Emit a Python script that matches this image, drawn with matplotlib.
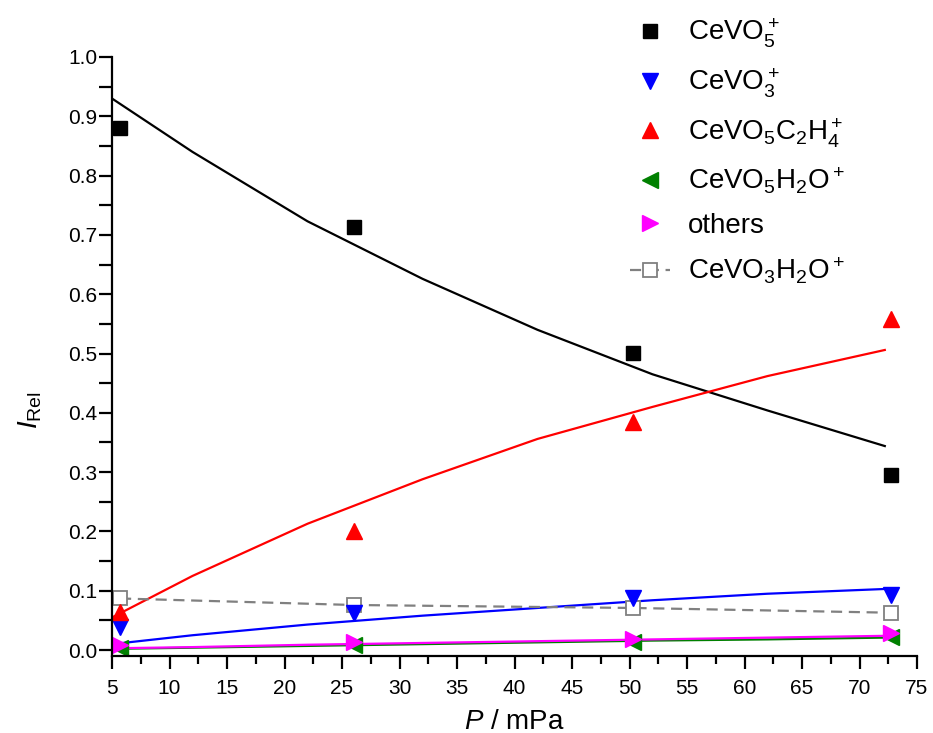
import matplotlib.pyplot as plt
from matplotlib.ticker import MultipleLocator
from matplotlib.lines import Line2D

plt.rcParams['font.family'] = ['Liberation Sans', 'DejaVu Sans']
plt.rcParams['mathtext.fontset'] = 'custom'
plt.rcParams['mathtext.rm'] = 'Liberation Sans'
plt.rcParams['mathtext.it'] = 'Liberation Sans:italic'

# measured points
presion = [5.7, 26.0, 50.3, 72.7]
cevo5 = [0.880, 0.713, 0.501, 0.296]
cevo3 = [0.039, 0.062, 0.087, 0.093]
cevo5c2h4 = [0.064, 0.200, 0.384, 0.558]
cevo5h2o = [0.003, 0.009, 0.014, 0.022]
otros = [0.009, 0.013, 0.019, 0.028]
cevo3h2o = [0.087, 0.076, 0.071, 0.063]

# fitted curves
x_fit = [5.0, 12, 22, 32, 42, 52, 62, 72.2]
fit_cevo5 = [0.930, 0.840, 0.723, 0.626, 0.540, 0.465, 0.404, 0.344]
fit_c2h4 = [0.055, 0.125, 0.213, 0.288, 0.356, 0.410, 0.462, 0.506]
fit_cevo3 = [0.010, 0.025, 0.043, 0.058, 0.071, 0.084, 0.095, 0.103]
fit_otros = [0.003, 0.005, 0.009, 0.012, 0.015, 0.018, 0.021, 0.024]
fit_h2o = [0.002, 0.004, 0.007, 0.010, 0.013, 0.016, 0.018, 0.021]

fig = plt.figure(figsize=(9.33, 7.33), dpi=100)
ax = fig.add_axes([112/933, 1-656/733, 805/933, 599/733])

ax.plot(x_fit, fit_cevo5, color='black', lw=1.6)
ax.plot(x_fit, fit_c2h4, color='red', lw=1.6)
ax.plot(x_fit, fit_cevo3, color='blue', lw=1.6)
ax.plot(x_fit, fit_h2o, color='green', lw=1.6)
ax.plot(x_fit, fit_otros, color='magenta', lw=1.6)

ax.plot(presion, cevo3h2o, color='gray', ls=(0, (5, 3)), lw=1.6, marker='s',
        ms=9.5, mfc='white', mec='gray', mew=1.3)
ax.plot(presion, cevo5, 's', color='black', ms=9.5, clip_on=False)
ax.plot(presion, cevo3, 'v', color='blue', ms=11.5, clip_on=False)
ax.plot(presion, cevo5c2h4, '^', color='red', ms=11.5, clip_on=False)
ax.plot(presion, cevo5h2o, '<', color='green', ms=11.5, clip_on=False)
ax.plot(presion, otros, '>', color='magenta', ms=11.5, clip_on=False)

ax.set_xlim(5, 75)
ax.set_ylim(-0.01, 1.0)
ax.xaxis.set_major_locator(MultipleLocator(5))
ax.xaxis.set_minor_locator(MultipleLocator(2.5))
ax.yaxis.set_major_locator(MultipleLocator(0.1))
ax.yaxis.set_minor_locator(MultipleLocator(0.05))
ax.yaxis.set_major_formatter(plt.FuncFormatter(lambda v, p: '%.1f' % v))
ax.spines['top'].set_visible(False)
ax.spines['right'].set_visible(False)
for s in ['left', 'bottom']:
    ax.spines[s].set_linewidth(1.6)
ax.tick_params(which='major', direction='out', length=9.5, width=1.6, labelsize=15)
ax.tick_params(axis='x', which='major', pad=7)
ax.tick_params(axis='y', which='major', pad=1)
ax.tick_params(axis='x', which='minor', direction='out', length=6, width=1.6)
ax.tick_params(axis='y', which='minor', direction='out', length=9.5, width=1.6)

ax.set_xlabel(r'$\mathit{P}$ / mPa', fontsize=20)
ax.xaxis.set_label_coords(0.5, -0.088)
ax.set_ylabel(r'$\mathit{I}_{\mathrm{Rel}}$', fontsize=20)
ax.yaxis.set_label_coords(-0.084, 0.41)

handles = [
    Line2D([], [], ls='none', marker='s', color='black', ms=9.5),
    Line2D([], [], ls='none', marker='v', color='blue', ms=11.5),
    Line2D([], [], ls='none', marker='^', color='red', ms=11.5),
    Line2D([], [], ls='none', marker='<', color='green', ms=11.5),
    Line2D([], [], ls='none', marker='>', color='magenta', ms=11.5),
    Line2D([], [], color='gray', ls=(0, (5, 3)), lw=1.6, marker='s', ms=9.5,
           mfc='white', mec='gray', mew=1.3),
]
labels = [r'CeVO$_5^+$', r'CeVO$_3^+$', r'CeVO$_5$C$_2$H$_4^+$',
          r'CeVO$_5$H$_2$O$^+$', 'others', r'CeVO$_3$H$_2$O$^+$']
fig.legend(handles, labels, loc='upper left', bbox_to_anchor=(613/933, 1.0),
           frameon=False, fontsize=20, handlelength=1.45, handletextpad=0.65,
           labelspacing=0.6, borderpad=0.1)

fig.savefig('out.png')
